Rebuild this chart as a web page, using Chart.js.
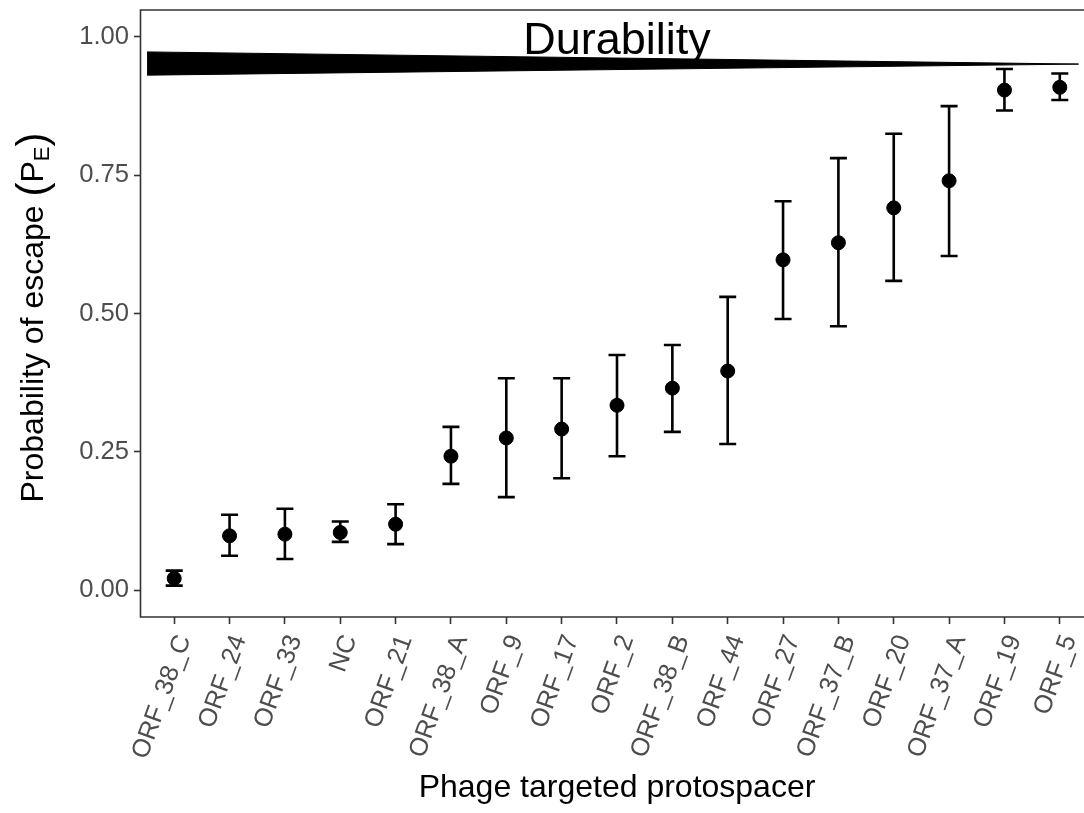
<!DOCTYPE html>
<html>
<head>
<meta charset="utf-8">
<title>Probability of escape</title>
<script src="https://cdn.jsdelivr.net/npm/chart.js@4.4.1/dist/chart.umd.min.js"></script>
<style>
    html, body { margin: 0; padding: 0; background: #fff; overflow: hidden; }
    #wrap { width: 1084px; height: 813px; overflow: hidden; }
    #escapeChart { display: block; }
</style>
</head>
<body>
<div id="wrap"><canvas id="escapeChart" width="1093" height="813"></canvas></div>
<script>
// values
const categories = ['ORF_38_C', 'ORF_24', 'ORF_33', 'NC', 'ORF_21', 'ORF_38_A', 'ORF_9', 'ORF_17', 'ORF_2',
    'ORF_38_B', 'ORF_44', 'ORF_27', 'ORF_37_B', 'ORF_20', 'ORF_37_A', 'ORF_19', 'ORF_5'];
const escapeMean  = [0.021, 0.098, 0.101, 0.104, 0.119, 0.242, 0.275, 0.291, 0.334, 0.365, 0.396, 0.597, 0.628, 0.691, 0.740, 0.904, 0.909];
const escapeLower = [0.008, 0.062, 0.056, 0.087, 0.083, 0.192, 0.168, 0.202, 0.242, 0.286, 0.264, 0.490, 0.477, 0.559, 0.604, 0.867, 0.886];
const escapeUpper = [0.035, 0.136, 0.147, 0.124, 0.155, 0.295, 0.383, 0.383, 0.425, 0.443, 0.530, 0.703, 0.781, 0.825, 0.875, 0.942, 0.934];
const yTicks = [0, 0.25, 0.5, 0.75, 1];

// "Durability" wedge: thick on the left, tapering to a point on the right
const wedgeX = [-0.49, 16.34, -0.49];
const wedgeY = [0.973, 0.951, 0.931];
const durabilityLabel = { text: 'Durability', x: 8, y: 0.969 };

const FONT = '"Liberation Sans", Arial, Helvetica, sans-serif';
Chart.defaults.font.family = FONT;

// error bars under the points, panel frame + titles on top
const decor = {
    id: 'decor',
    beforeDatasetsDraw(chart) {
        const { ctx, scales: { x, y } } = chart;
        ctx.save();
        ctx.strokeStyle = '#000';
        ctx.lineWidth = 2.6;
        categories.forEach((c, i) => {
            const px = x.getPixelForValue(i);
            const top = y.getPixelForValue(escapeUpper[i]);
            const bot = y.getPixelForValue(escapeLower[i]);
            ctx.beginPath();
            ctx.moveTo(px, top); ctx.lineTo(px, bot);
            ctx.moveTo(px - 8.5, top); ctx.lineTo(px + 8.5, top);
            ctx.moveTo(px - 8.5, bot); ctx.lineTo(px + 8.5, bot);
            ctx.stroke();
        });
        ctx.restore();
    },
    afterDraw(chart) {
        const { ctx, chartArea: a, scales: { x, y } } = chart;
        ctx.save();

        // panel border (right edge falls outside the picture)
        ctx.strokeStyle = '#333';
        ctx.lineWidth = 1.6;
        ctx.beginPath();
        ctx.moveTo(a.right, a.top);
        ctx.lineTo(a.left - 0.5, a.top);
        ctx.lineTo(a.left - 0.5, a.bottom);
        ctx.lineTo(a.right, a.bottom);
        ctx.stroke();

        // Durability label
        ctx.fillStyle = '#000';
        ctx.font = '45px ' + FONT;
        ctx.textAlign = 'center';
        ctx.textBaseline = 'alphabetic';
        ctx.fillText(durabilityLabel.text, x.getPixelForValue(durabilityLabel.x), y.getPixelForValue(durabilityLabel.y));

        // x title
        ctx.font = '32px ' + FONT;
        ctx.fillText('Phage targeted protospacer', (a.left + a.right) / 2, 797);

        // y title with subscript E
        const parts = [
            { t: 'Probability of escape ', size: 32, dy: 0 },
            { t: '(', size: 42, dy: 3 },
            { t: 'P', size: 32, dy: 0 },
            { t: 'E', size: 22, dy: 6 },
            { t: ')', size: 42, dy: 3 }
        ];
        let total = 0;
        parts.forEach(p => {
            ctx.font = p.size + 'px ' + FONT;
            p.w = ctx.measureText(p.t).width;
            total += p.w;
        });
        ctx.translate(43, (a.top + a.bottom) / 2 + 4);
        ctx.rotate(-Math.PI / 2);
        ctx.textAlign = 'left';
        let cx = -total / 2;
        parts.forEach(p => {
            ctx.font = p.size + 'px ' + FONT;
            ctx.fillText(p.t, cx, p.dy);
            cx += p.w;
        });
        ctx.restore();
    }
};

const ctx = document.getElementById('escapeChart');
new Chart(ctx, {
    type: 'scatter',
    data: {
        datasets: [
            {
                label: 'durability',
                type: 'line',
                data: wedgeX.map((v, i) => ({ x: v, y: wedgeY[i] })),
                showLine: true,
                fill: 'shape',
                tension: 0,
                backgroundColor: '#000',
                borderColor: '#000',
                borderWidth: 1,
                pointRadius: 0
            },
            {
                label: 'P_E',
                data: escapeMean.map((v, i) => ({ x: i, y: v })),
                backgroundColor: '#000',
                borderColor: '#000',
                pointRadius: 7,
                pointHoverRadius: 7
            }
        ]
    },
    options: {
        responsive: false,
        animation: false,
        events: [],
        layout: { autoPadding: false, padding: { top: 10, right: 0, bottom: 0, left: 0 } },
        plugins: {
            legend: { display: false },
            tooltip: { enabled: false }
        },
        scales: {
            x: {
                type: 'linear',
                min: -0.6,
                max: 16.6,
                afterBuildTicks: (s) => { s.ticks = categories.map((c, i) => ({ value: i })); },
                afterFit: (s) => { s.height = 196; s.paddingLeft = 0; s.paddingRight = 0; },
                border: { display: false },
                grid: { drawOnChartArea: false, tickLength: 7, tickColor: '#333', tickWidth: 1.6 },
                ticks: {
                    autoSkip: false,
                    minRotation: 70,
                    maxRotation: 70,
                    padding: 7,
                    labelOffset: 10,
                    color: '#4d4d4d',
                    font: { size: 25.6 },
                    callback: (v) => categories[v]
                }
            },
            y: {
                min: -0.0488,
                max: 1.0488,
                afterBuildTicks: (s) => { s.ticks = yTicks.map(v => ({ value: v })); },
                afterFit: (s) => { s.width = 141; s.paddingTop = 0; s.paddingBottom = 0; },
                border: { display: false },
                grid: { drawOnChartArea: false, tickLength: 7, tickColor: '#333', tickWidth: 1.6 },
                ticks: {
                    padding: 5,
                    color: '#4d4d4d',
                    font: { size: 25.6 },
                    callback: (v) => v.toFixed(2)
                }
            }
        }
    },
    plugins: [decor]
});
</script>
</body>
</html>
